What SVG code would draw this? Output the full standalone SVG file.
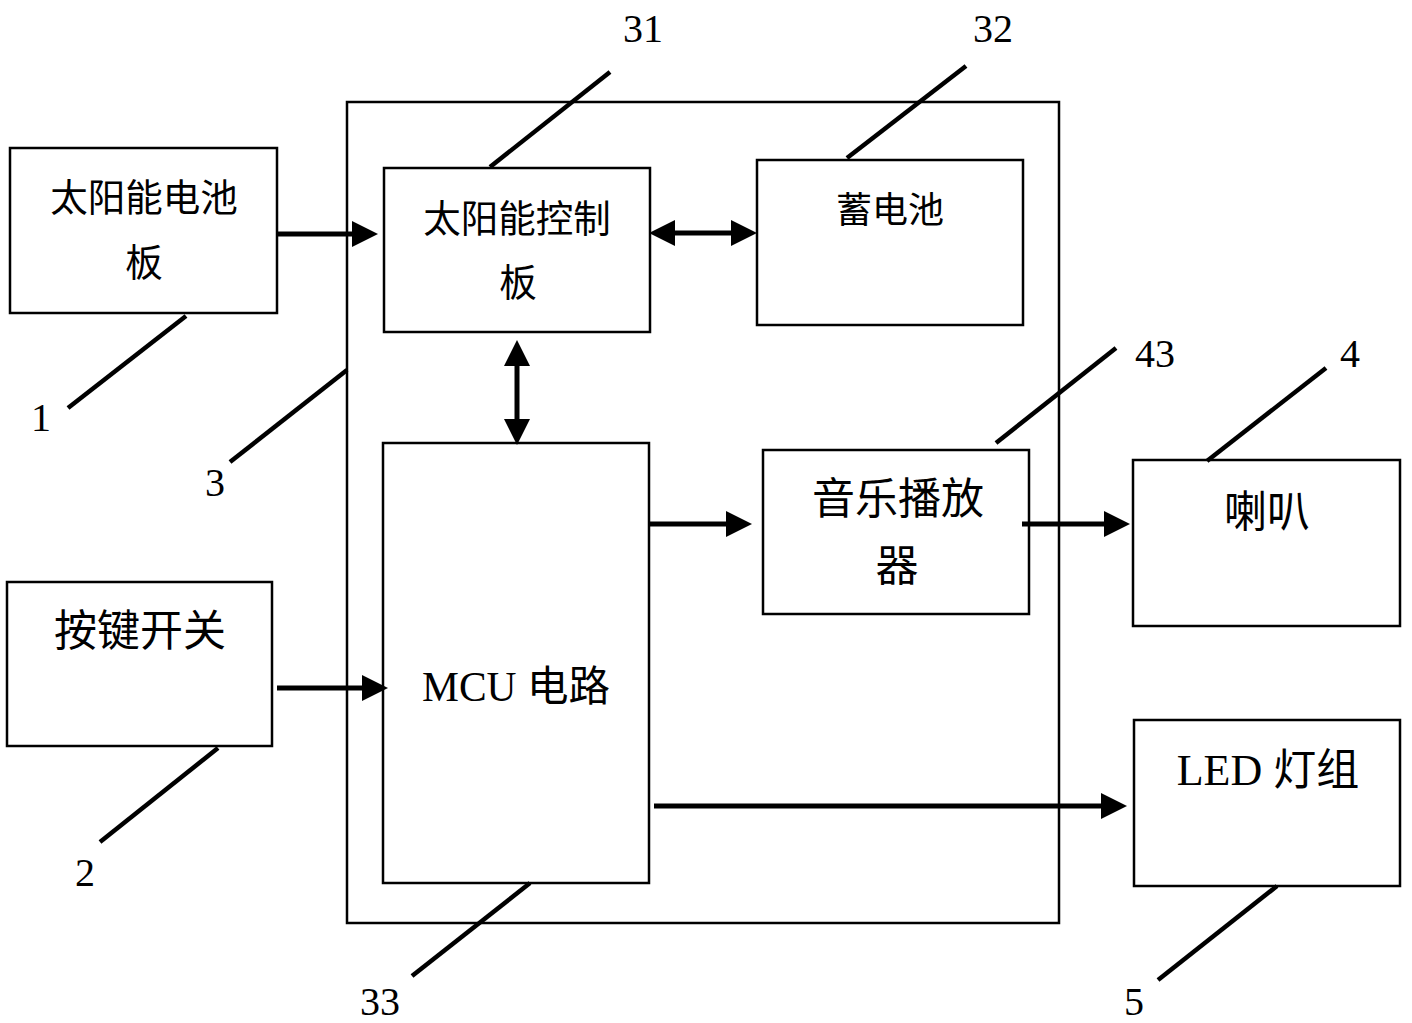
<svg xmlns="http://www.w3.org/2000/svg" width="1412" height="1023" viewBox="0 0 1412 1023">
<style>
.box{fill:#fff;stroke:#000;stroke-width:2.5}
.outer{fill:none;stroke:#000;stroke-width:2.5}
.t{font-family:"Liberation Serif","Noto Sans CJK SC",serif;font-size:37.5px;fill:#000;text-anchor:middle}
.b{font-size:43px}
.n{font-family:"Liberation Serif",serif;font-size:40px;fill:#000;text-anchor:middle}
.arr{stroke:#000;stroke-width:5;fill:none}
.lead{stroke:#000;stroke-width:4.5;fill:none}
</style>
<defs>
<marker id="ah" markerUnits="userSpaceOnUse" markerWidth="26" markerHeight="26" refX="6" refY="13" orient="auto-start-reverse" viewBox="0 0 26 26">
<path d="M0,0 L26,13 L0,26 z" fill="#000"/>
</marker>
</defs>
<rect id="frame3" class="outer" x="347" y="102" width="712" height="821"/>
<g id="n1"><rect class="box" x="10" y="148" width="267" height="165"/><text class="t" x="144" y="211">太阳能电池</text><text class="t" x="144" y="276">板</text></g>
<g id="n2"><rect class="box" x="7" y="582" width="265" height="164"/><text class="t b" x="140" y="646">按键开关</text></g>
<g id="n31"><rect class="box" x="384" y="168" width="266" height="164"/><text class="t" x="517" y="232">太阳能控制</text><text class="t" x="518" y="296">板</text></g>
<g id="n32"><rect class="box" x="757" y="160" width="266" height="165"/><text class="t" x="890" y="223" style="font-size:36px">蓄电池</text></g>
<g id="n33"><rect class="box" x="383" y="443" width="266" height="440"/><text class="t" x="516" y="701" style="font-size:41.5px">MCU 电路</text></g>
<g id="n43"><rect class="box" x="763" y="450" width="266" height="164"/><text class="t b" x="898" y="514">音乐播放</text><text class="t b" x="897" y="581">器</text></g>
<g id="n4"><rect class="box" x="1133" y="460" width="267" height="166"/><text class="t b" x="1267" y="527">喇叭</text></g>
<g id="n5"><rect class="box" x="1134" y="720" width="266" height="166"/><text class="t b" x="1268" y="785"><tspan style="font-size:44px">LED </tspan>灯组</text></g>
<g id="connectors">
<line class="arr" x1="278" y1="234" x2="358" y2="234" marker-end="url(#ah)"/>
<line class="arr" x1="669" y1="233" x2="737" y2="233" marker-start="url(#ah)" marker-end="url(#ah)"/>
<line class="arr" x1="517" y1="360" x2="517" y2="425" marker-start="url(#ah)" marker-end="url(#ah)"/>
<line class="arr" x1="650" y1="524" x2="732" y2="524" marker-end="url(#ah)"/>
<line class="arr" x1="1022" y1="524" x2="1110" y2="524" marker-end="url(#ah)"/>
<line class="arr" x1="277" y1="688" x2="368" y2="688" marker-end="url(#ah)"/>
<line class="arr" x1="654" y1="806" x2="1107" y2="806" marker-end="url(#ah)"/>
</g>
<g id="leaders">
<line class="lead" x1="490" y1="167" x2="610" y2="72"/>
<line class="lead" x1="847" y1="158" x2="966" y2="66"/>
<line class="lead" x1="186" y1="316" x2="68" y2="408"/>
<line class="lead" x1="347" y1="370" x2="230" y2="462"/>
<line class="lead" x1="996" y1="443" x2="1116" y2="348"/>
<line class="lead" x1="1207" y1="461" x2="1326" y2="368"/>
<line class="lead" x1="218" y1="748" x2="100" y2="842"/>
<line class="lead" x1="530" y1="883" x2="412" y2="976"/>
<line class="lead" x1="1277" y1="886" x2="1158" y2="980"/>
</g>
<g id="labels">
<text class="n" x="643" y="42">31</text>
<text class="n" x="993" y="42">32</text>
<text class="n" x="41" y="431">1</text>
<text class="n" x="215" y="496">3</text>
<text class="n" x="1155" y="367">43</text>
<text class="n" x="1350" y="367">4</text>
<text class="n" x="85" y="886">2</text>
<text class="n" x="380" y="1015">33</text>
<text class="n" x="1134" y="1015">5</text>
</g>
</svg>
